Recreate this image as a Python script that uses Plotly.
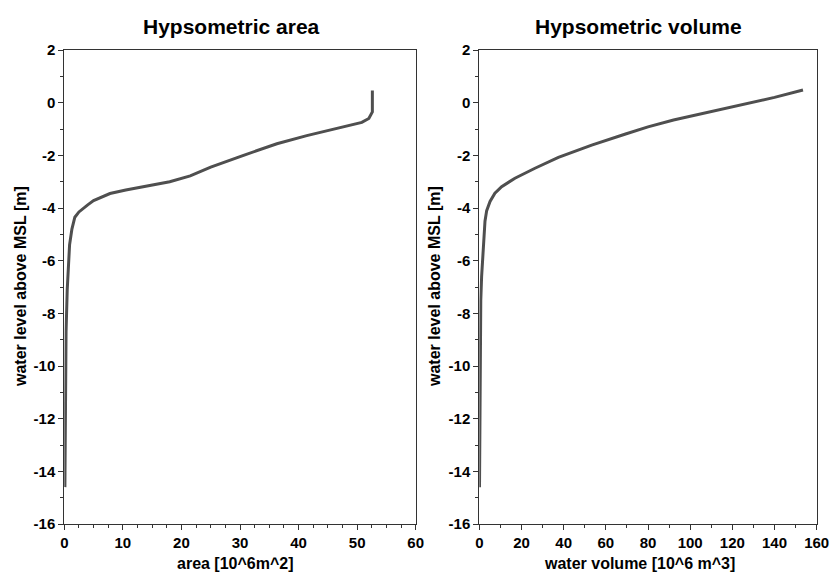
import plotly.graph_objects as go

area_x = [0.1, 0.15, 0.2, 0.3, 0.5, 0.7, 0.9, 1.3, 1.8, 2.5, 3.0, 4.0, 5.0, 7.8, 10.5, 13.5, 16, 18,
          21.5, 25, 30.6, 36.3, 41.4, 47.6, 50.8, 52.0, 52.6, 52.6]
area_y = [-14.6, -12.0, -10.0, -8.7, -7.1, -6.0, -5.4, -4.8, -4.35, -4.15, -4.05, -3.88, -3.72, -3.45,
          -3.32, -3.19, -3.08, -3.0, -2.78, -2.45, -2.0, -1.56, -1.25, -0.93, -0.75, -0.6, -0.35, 0.46]

vol_x = [0.1, 0.2, 0.3, 0.7, 1.1, 1.9, 2.7, 3.5, 5.1, 7.4, 10.6, 16.9, 26.4, 37.5, 53.3, 69, 80,
         92.1, 108, 123.7, 140, 153.5]
vol_y = [-14.6, -12, -8.75, -7.5, -6.6, -5.5, -4.5, -4.1, -3.75, -3.44, -3.19, -2.87, -2.49, -2.08,
         -1.61, -1.2, -0.92, -0.66, -0.38, -0.09, 0.2, 0.48]

y_ticks = [2, 0, -2, -4, -6, -8, -10, -12, -14, -16]
y_ticklabels = ["2", "0", "-2", "-4", "-6", "-8", "-10", "-12", "-14", "-16"]
area_ticks = [0, 10, 20, 30, 40, 50, 60]
vol_ticks = [0, 20, 40, 60, 80, 100, 120, 140, 160]

titles = ["Hypsometric area", "Hypsometric volume"]
xtitles = ["area [10^6m^2]", "water volume [10^6 m^3]"]
ytitle = "water level above MSL [m]"

FONT = "Liberation Sans, Arial, sans-serif"
LINE = "#4f4f4f"
AX = "#333333"

W, H = 832, 572


def px(x):
    return x / W


def py(y):
    return 1 - y / H


fig = go.Figure()
fig.add_trace(go.Scatter(x=area_x, y=area_y, mode="lines", line=dict(color=LINE, width=3),
                         xaxis="x", yaxis="y", showlegend=False))
fig.add_trace(go.Scatter(x=vol_x, y=vol_y, mode="lines", line=dict(color=LINE, width=3),
                         xaxis="x2", yaxis="y2", showlegend=False))

ydom = [py(524), py(50)]
tickfont = dict(family=FONT, size=15, color="black", weight="bold")
common = dict(showgrid=False, zeroline=False, showline=True, linecolor=AX, linewidth=1,
              mirror=True, ticks="outside", ticklen=5, tickcolor=AX, tickfont=tickfont,
              automargin=False, tickmode="array")

fig.update_layout(
    width=W, height=H, margin=dict(l=0, r=0, t=0, b=0, pad=0),
    paper_bgcolor="white", plot_bgcolor="white",
    xaxis=dict(domain=[px(64.3), px(415.7)], range=[0, 60],
               tickvals=area_ticks, ticktext=[str(v) for v in area_ticks],
               minor=dict(tickmode="linear", tick0=0, dtick=2.5, ticks="outside", ticklen=3, tickcolor=AX),
               anchor="y", **common),
    yaxis=dict(domain=ydom, range=[-16, 2], tickvals=y_ticks, ticktext=y_ticklabels,
               minor=dict(tickmode="linear", tick0=0, dtick=1, ticks="outside", ticklen=3, tickcolor=AX),
               anchor="x", **common),
    xaxis2=dict(domain=[px(479.3), px(816.7)], range=[0, 160],
                tickvals=vol_ticks, ticktext=[str(v) for v in vol_ticks],
                minor=dict(tickmode="linear", tick0=0, dtick=10, ticks="outside", ticklen=3, tickcolor=AX),
                anchor="y2", **common),
    yaxis2=dict(domain=ydom, range=[-16, 2], tickvals=y_ticks, ticktext=y_ticklabels,
                minor=dict(tickmode="linear", tick0=0, dtick=1, ticks="outside", ticklen=3, tickcolor=AX),
                anchor="x2", **common),
)

ann = []
for cx, t in [(231, titles[0]), (638, titles[1])]:
    ann.append(dict(text="<b>%s</b>" % t, x=px(cx), y=py(27), xref="paper", yref="paper",
                    showarrow=False, font=dict(family=FONT, size=21, color="black"),
                    xanchor="center", yanchor="middle"))
for cx, t in [(235, xtitles[0]), (639, xtitles[1])]:
    ann.append(dict(text="<b>%s</b>" % t, x=px(cx), y=py(563), xref="paper", yref="paper",
                    showarrow=False, font=dict(family=FONT, size=16, color="black"),
                    xanchor="center", yanchor="middle"))
for cx in [20, 434]:
    ann.append(dict(text="<b>%s</b>" % ytitle, x=px(cx), y=py(287), xref="paper", yref="paper",
                    showarrow=False, textangle=-90, font=dict(family=FONT, size=16, color="black"),
                    xanchor="center", yanchor="middle"))
fig.update_layout(annotations=ann)

fig.write_html("out.html", config={"displayModeBar": False},
               post_script="document.body.style.margin='0';document.body.style.overflow='hidden';")
